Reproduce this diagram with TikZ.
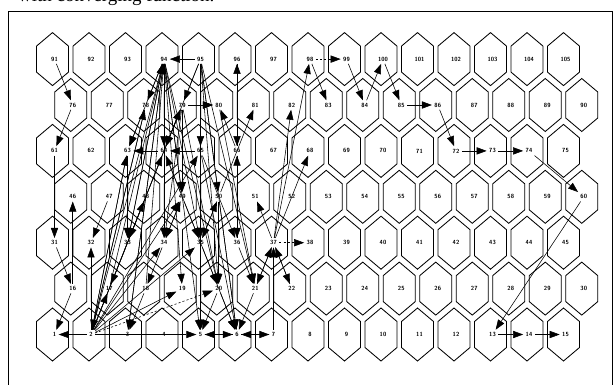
\documentclass[tikz,border=0pt]{standalone}
\usepackage{fontspec}
\newfontfamily\capfont{Liberation Serif}
\usetikzlibrary{arrows.meta}
\begin{document}
\begin{tikzpicture}[x=0.5mm,y=-0.5mm,
  hexline/.style={line width=1.2pt},
  lbl/.style={font=\sffamily\bfseries\fontsize{8.5}{9}\selectfont, inner sep=1.2mm},
  arr/.style={line width=0.8pt, -{Triangle[length=5mm,width=3.6mm]}},
  darr/.style={arr, dashed},
]
\useasboundingbox (0,0) rectangle (616,384);
\clip (0,0) rectangle (616,384);
\node[anchor=base west, inner sep=0pt, font=\capfont\fontsize{27}{30}\selectfont] (cap) at (18,1.5) {with converging function.};
\draw[line width=1.4pt] (8,390) -- (8,11) -- (612,11) -- (612,390);
\foreach \r in {0,...,6}{
  \foreach \c in {0,...,14}{
    \pgfmathsetmacro\xx{52.5+36.5*\c+18.25*mod(\r,2)}
    \pgfmathsetmacro\yy{334.5-45.9*\r}
    \pgfmathtruncatemacro\num{15*\r+\c+1}
    \draw[hexline] (\xx,\yy-26.5) -- ++(16,13.5) -- ++(0,26) -- ++(-16,13.5) -- ++(-16,-13.5) -- ++(0,-26) -- cycle;
    \node[lbl] (n\num) at (\xx+2,\yy) {\num};
  }
}
% clear trajectory on the right
\foreach \a/\b in {91/76,76/61,61/31,31/16,16/1,16/46,
  98/83,99/84,84/100,100/85,85/86,86/72,72/73,73/74,74/60,60/13,13/14,14/15}
  \draw[arr] (n\a) -- (n\b);
\draw[darr] (n98) -- (n99);
% tangle
\foreach \a/\b in {95/94,
  2/94,17/94,33/94,18/94,3/94,
  95/5,95/6,95/20,95/21,95/35,95/50,95/65,95/64,95/79,
  94/34,94/19,94/49,94/33,94/63,94/3,94/64,94/78,94/5,94/20,94/35,
  79/64,79/49,79/34,79/80,78/63,79/17,79/20,64/35,65/6,80/21,65/36,50/6,
  2/78,2/79,2/63,2/64,2/48,2/49,2/34,2/19,2/17,2/32,2/35,2/65,
  64/63,65/64,49/64,34/49,64/79,49/34,35/50,50/35,
  66/96,36/66,66/80,96/66,66/36,
  50/81,37/82,37/68,37/98,37/51,37/21,37/22,22/37,7/37,21/37,
  36/21,21/6,20/5,20/6,35/5,35/6,34/18,49/20,50/20,
  2/5,6/5,5/6,7/6,6/7,2/1,
  47/32,48/33,63/33,18/3,63/2,78/2}
  \draw[arr] (n\a) -- (n\b);
\foreach \a/\b in {37/38,2/20,79/80}
  \draw[darr] (n\a) -- (n\b);
\end{tikzpicture}
\end{document}
